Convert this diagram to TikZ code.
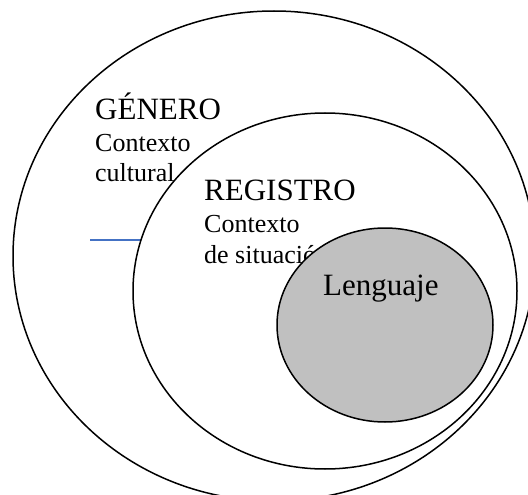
\documentclass[tikz,border=0pt]{standalone}
\usepackage{fontspec}
\setmainfont{Liberation Serif}
\usetikzlibrary{shapes.geometric}
\definecolor{lineblue}{HTML}{4472C4}
\definecolor{langgray}{HTML}{C0C0C0}
\tikzset{
  ring/.style={draw=black, line width=1.5pt, ellipse, inner sep=0pt},
  heading/.style={anchor=base west, inner sep=0pt, font=\fontsize{31}{37}\selectfont},
  sub/.style={anchor=base west, inner sep=0pt, font=\fontsize{26}{30}\selectfont},
}
\begin{document}
\begin{tikzpicture}[x=1pt,y=-1pt]
\useasboundingbox (0,0) rectangle (528,495);
\clip (0,0) rectangle (528,495);
\node[ring, minimum width=522pt, minimum height=490pt] (genero) at (274,256) {};
\node[heading] (tgen) at (95,119.5) {GÉNERO};
\node[sub] (tcont1) at (95,151) {Contexto};
\node[sub] (tcult) at (95,181) {cultural};
\coordinate (bstart) at (90,240);
\coordinate (bend) at (141,240);
\draw[lineblue, line width=2pt] (bstart) -- (bend);
\node[ring, fill=white, minimum width=384pt, minimum height=356pt] (registro) at (325,291) {};
\node[heading] (treg) at (204,200) {REGISTRO};
\node[sub] (tcont2) at (204,232) {Contexto};
\node[sub] (tsit) at (204,263) {de situación};
\node[ring, fill=langgray, minimum width=216pt, minimum height=194pt] (lenguaje) at (385,325) {};
\node[heading] (tleng) at (323,295) {Lenguaje};
\end{tikzpicture}
\end{document}
